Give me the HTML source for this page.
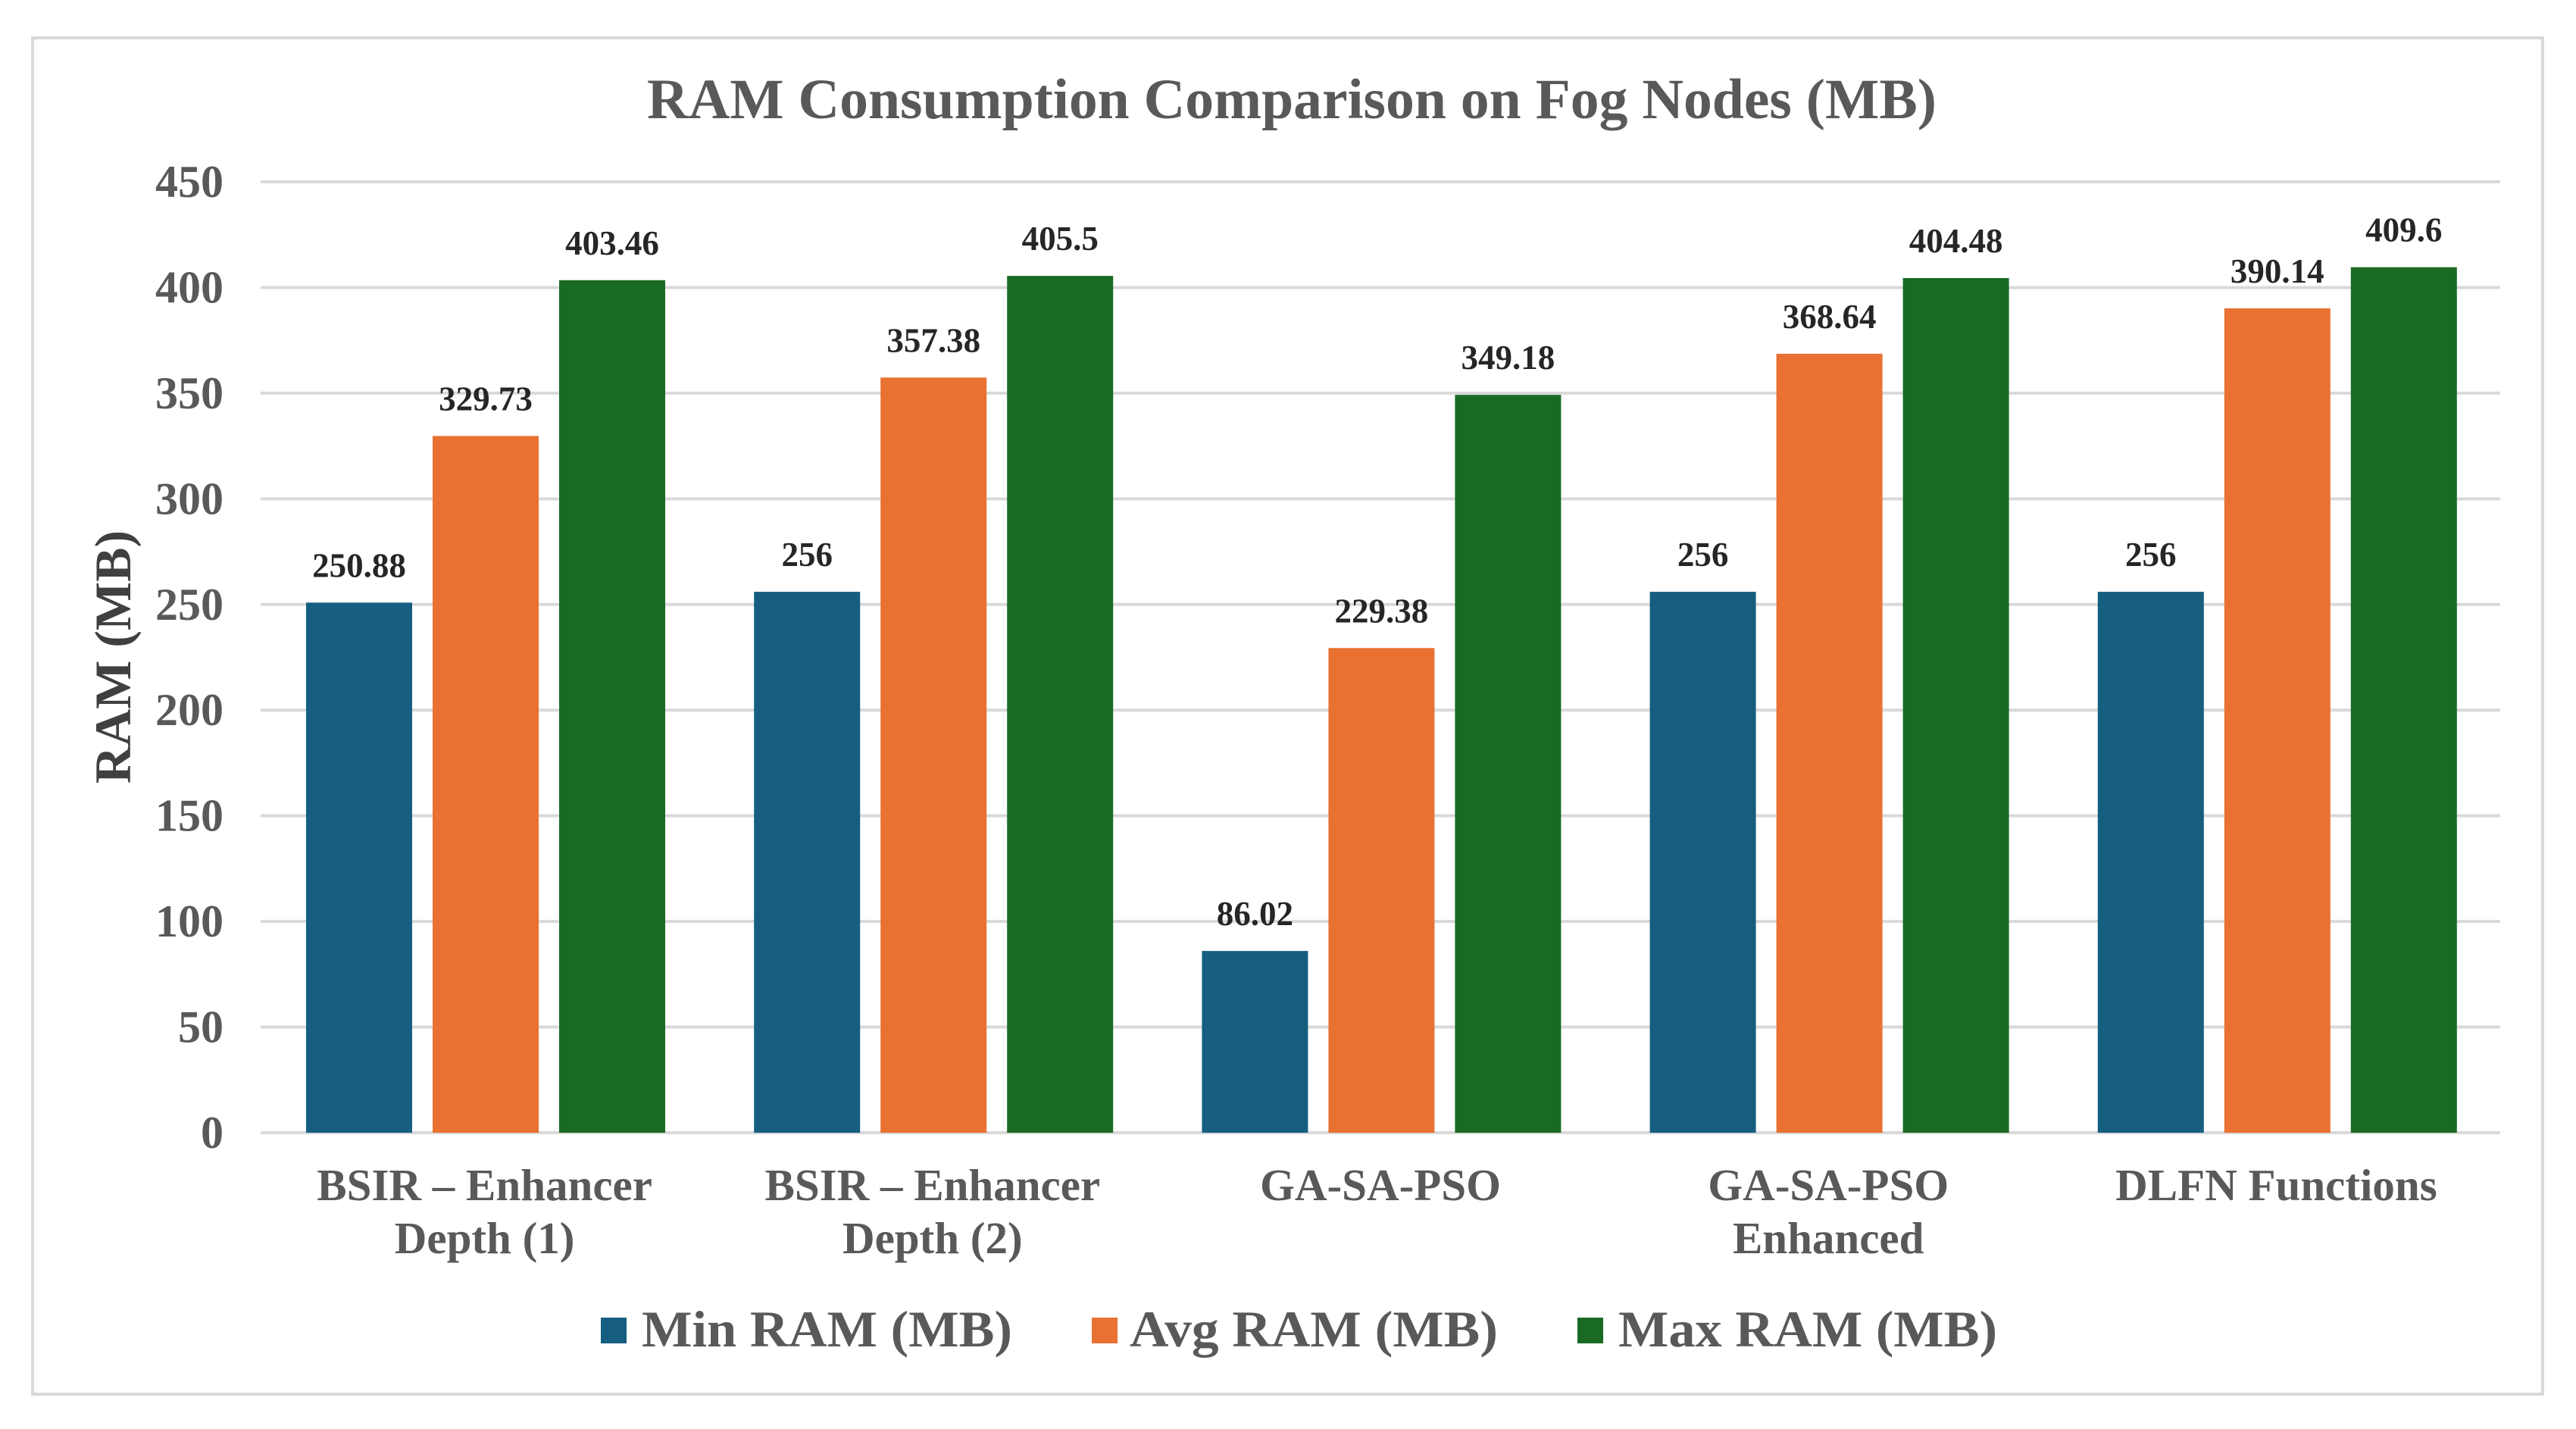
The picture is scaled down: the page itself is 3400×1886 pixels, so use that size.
<!DOCTYPE html>
<html><head><meta charset="utf-8"><style>
html,body{margin:0;padding:0;background:#fff;}
svg{display:block;font-family:"Liberation Serif","Times New Roman",serif;font-weight:bold;}
</style></head><body>
<svg id="chart" width="3400" height="1886" viewBox="0 0 3400 1886">
<rect x="43" y="50" width="3313" height="1790" fill="#fff" stroke="#d9d9d9" stroke-width="4"/>
<text x="1705" y="156" text-anchor="middle" font-size="75" fill="#595959" textLength="1702" lengthAdjust="spacingAndGlyphs">RAM Consumption  Comparison  on Fog Nodes (MB)</text>
<text transform="translate(172,867) rotate(-90)" text-anchor="middle" font-size="68" fill="#404040">RAM (MB)</text>
<g id="grid"></g><g id="bars"></g><g id="labels"></g><g id="xlabels"></g>
<g>
<rect x="793" y="1739" width="34" height="34" fill="#165E80"/>
<text x="847" y="1777" font-size="68" fill="#595959" textLength="489" lengthAdjust="spacingAndGlyphs">Min RAM (MB)</text>
<rect x="1441" y="1739" width="34" height="34" fill="#E97132"/>
<text x="1491" y="1777" font-size="68" fill="#595959" textLength="486" lengthAdjust="spacingAndGlyphs">Avg RAM (MB)</text>
<rect x="2082" y="1739" width="34" height="34" fill="#196B24"/>
<text x="2136" y="1777" font-size="68" fill="#595959" textLength="500" lengthAdjust="spacingAndGlyphs">Max RAM (MB)</text>
</g>
</svg>
<script>
const categories = [["BSIR \u2013  Enhancer","Depth (1)"],["BSIR \u2013  Enhancer","Depth (2)"],["GA-SA-PSO"],["GA-SA-PSO","Enhanced"],["DLFN Functions"]];
const minRam = [250.88, 256, 86.02, 256, 256];
const avgRam = [329.73, 357.38, 229.38, 368.64, 390.14];
const maxRam = [403.46, 405.5, 349.18, 404.48, 409.6];
const yTicks = [0, 50, 100, 150, 200, 250, 300, 350, 400, 450];

const NS = "http://www.w3.org/2000/svg";
const plotL = 344, plotR = 3300, y0 = 1495, yTop = 240, yMax = 450;
const groupW = (plotR - plotL) / categories.length;
const barW = 140, gap = 27, off = 60;
function yScale(v){ return y0 - (v / yMax) * (y0 - yTop); }
function xBar(i, s){ return plotL + i * groupW + off + s * (barW + gap); }
function mk(tag, attrs, parent){ const e = document.createElementNS(NS, tag); for (const k in attrs) e.setAttribute(k, attrs[k]); parent.appendChild(e); return e; }

const grid = document.getElementById('grid');
yTicks.forEach(t => {
  const y = yScale(t);
  const ln = mk('line', {x1: plotL, x2: plotR, y1: y, y2: y, stroke: '#d9d9d9', 'stroke-width': 4}, grid);
  
  
  const tx = mk('text', {x: 295, y: y + 20, 'text-anchor': 'end', 'font-size': 60, fill: '#595959'}, grid);
  tx.textContent = String(t);
  
  
});

const series = [[minRam, '#165E80', 'min'], [avgRam, '#E97132', 'avg'], [maxRam, '#196B24', 'max']];
const bars = document.getElementById('bars'), labels = document.getElementById('labels');
categories.forEach((c, i) => {
  series.forEach((s, si) => {
    const v = s[0][i], x = xBar(i, si), y = yScale(v);
    const r = mk('rect', {x: x, y: y, width: barW, height: y0 - y, fill: s[1]}, bars);
    
    
    const t = mk('text', {x: x + barW / 2, y: y - 34, 'text-anchor': 'middle', 'font-size': 45, fill: '#262626'}, labels);
    t.textContent = String(v);
    
    
  });
});

const xl = document.getElementById('xlabels');
categories.forEach((c, i) => {
  const cx = plotL + i * groupW + groupW / 2;
  c.forEach((line, li) => {
    const t = mk('text', {x: cx, y: 1584 + li * 70, 'text-anchor': 'middle', 'font-size': 59, fill: '#595959'}, xl);
    t.textContent = line;
    
    
  });
});
</script>
</body></html>
